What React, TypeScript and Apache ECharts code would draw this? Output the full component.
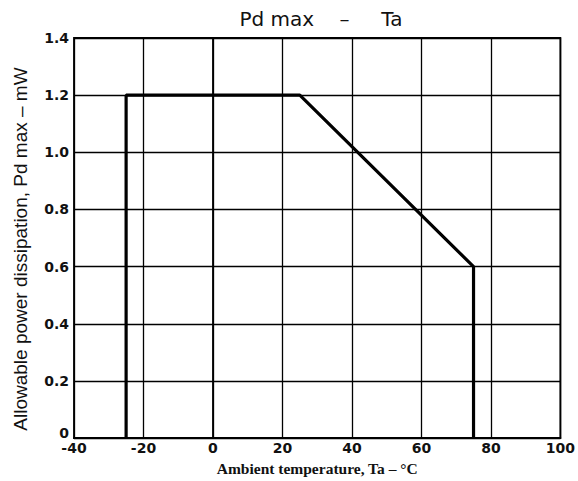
import React, { useEffect, useRef } from "react";
import * as echarts from "echarts";

const titleText = "Pd max    –     Ta";
const xName = "Ambient temperature, Ta – °C";
const yName = "Allowable power dissipation, Pd max – mW";
const temperature = [-25, -25, 25, 75, 75];
const power = [0, 1.2, 1.2, 0.6, 0];
const xTicks = { min: -40, max: 100, interval: 20 };
const yTicks = { min: 0, max: 1.4, interval: 0.2 };

export default function App() {
  const ref = useRef<HTMLDivElement>(null);
  useEffect(() => {
    document.body.style.margin = "0";
    if (!ref.current) return;
    const chart = echarts.init(ref.current, undefined, { renderer: "svg" });
    const data = temperature.map((t, i) => [t, power[i]]);
    chart.setOption({
      animation: false,
      backgroundColor: "#ffffff",
      title: {
        text: titleText,
        left: 316,
        textAlign: "center",
        top: 4,
        textStyle: { fontFamily: "DejaVu Sans", fontSize: 20, fontWeight: "normal", color: "#111" },
      },
      grid: { left: 74, right: 17, top: 38, bottom: 41, show: true, borderColor: "#000", borderWidth: 1.8, backgroundColor: "transparent" },
      xAxis: {
        type: "value",
        min: xTicks.min,
        max: xTicks.max,
        interval: xTicks.interval,
        name: xName,
        nameLocation: "middle",
        nameGap: 21,
        nameTextStyle: { fontFamily: "Liberation Serif", fontSize: 15.5, fontWeight: "bold", color: "#111" },
        axisLine: { show: true, lineStyle: { color: "#000", width: 1.8 } },
        axisTick: { show: false },
        axisLabel: { margin: 3, fontFamily: "DejaVu Sans", fontSize: 14, fontWeight: "bold", color: "#111" },
        splitLine: { show: true, lineStyle: { color: "#000", width: 1.3 } },
      },
      yAxis: {
        type: "value",
        min: yTicks.min,
        max: yTicks.max,
        interval: yTicks.interval,
        name: yName,
        nameLocation: "middle",
        nameGap: 44,
        nameRotate: 90,
        nameTextStyle: { fontFamily: "Liberation Sans", fontSize: 19, color: "#111", padding: [0, 22, 0, 0] },
        axisLine: { show: true, lineStyle: { color: "#000", width: 1.8 } },
        axisTick: { show: false },
        axisLabel: {
          margin: 5,
          fontFamily: "DejaVu Sans",
          fontSize: 14,
          fontWeight: "bold",
          color: "#111",
          formatter: (v: number) => (v === 0 ? "{z|0}" : v.toFixed(1)),
          rich: {
            z: { fontFamily: "DejaVu Sans", fontSize: 14, fontWeight: "bold", color: "#111", padding: [0, 0, 10, 0] },
          },
        },
        splitLine: { show: true, lineStyle: { color: "#000", width: 1.3 } },
      },
      series: [
        {
          type: "line",
          data,
          symbol: "none",
          lineStyle: { color: "#000", width: 3.2 },
          z: 5,
        },
      ],
    });
    return () => chart.dispose();
  }, []);
  return <div ref={ref} style={{ width: 578, height: 481 }} />;
}
